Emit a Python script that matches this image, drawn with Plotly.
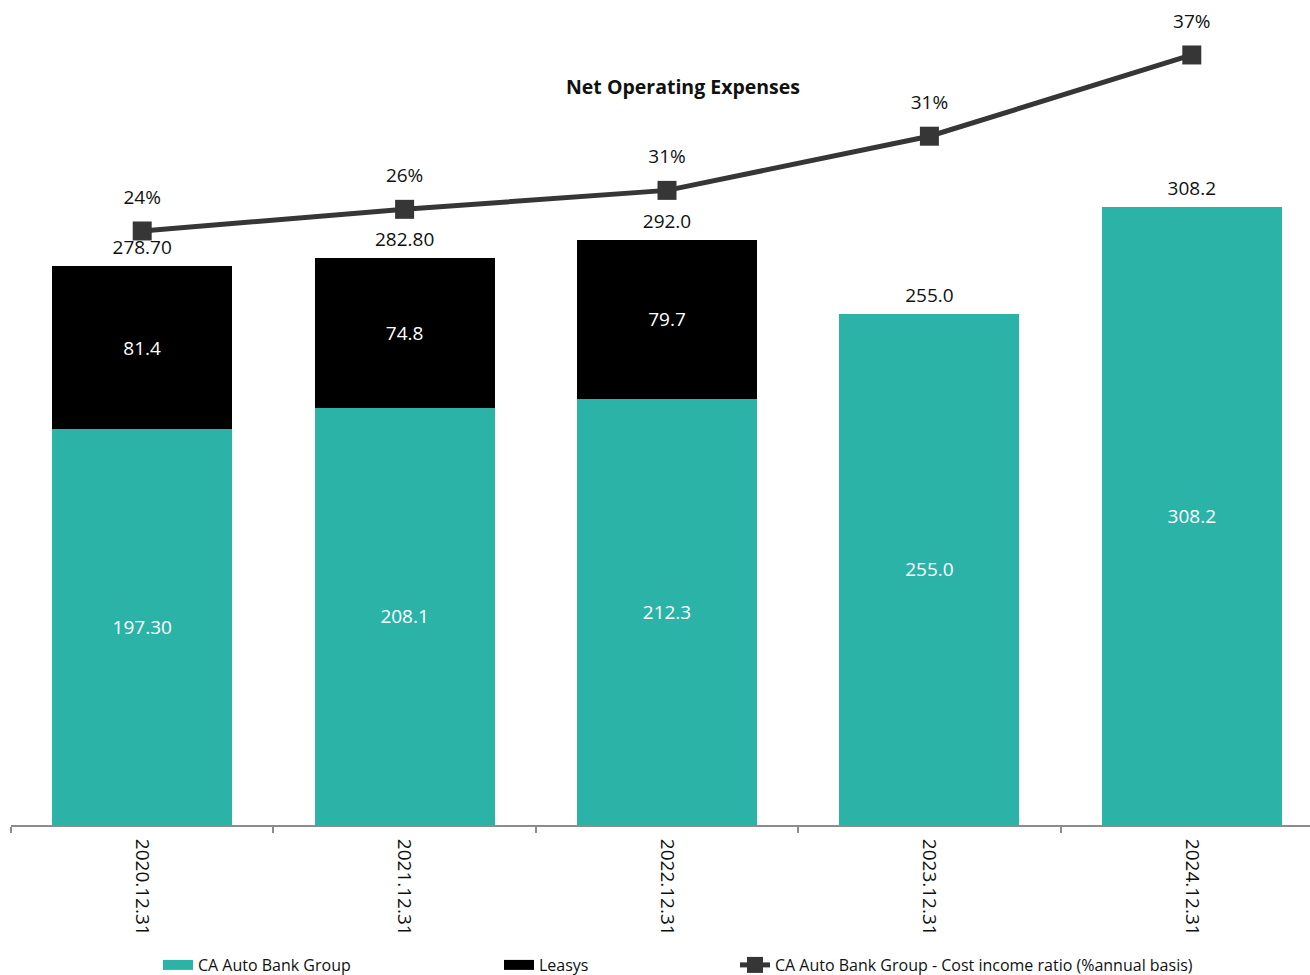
import plotly.graph_objects as go

categories = ["2020.12.31", "2021.12.31", "2022.12.31", "2023.12.31", "2024.12.31"]
ca_auto = [197.3, 208.1, 212.3, 255.0, 308.2]
ca_auto_labels = ["197.30", "208.1", "212.3", "255.0", "308.2"]
leasys = [81.4, 74.8, 79.7, None, None]
leasys_labels = ["81.4", "74.8", "79.7", "", ""]
totals = [278.7, 282.8, 292.0, 255.0, 308.2]
total_labels = ["278.70", "282.80", "292.0", "255.0", "308.2"]
cost_income = [24.0, 25.6, 27.0, 31.0, 37.0]
cost_income_labels = ["24%", "26%", "31%", "31%", "37%"]

TEAL = "#2BB3A8"
DARK = "#363636"
FONT = "Open Sans"
LABEL_SIZE = 19

# figure slightly wider than the window: the original's plot area runs past the right edge
W, H = 1323, 975
L, B = 11, 150
PW, PH = W - L, H - B


def px(x):
    return (x - L) / PW


def py(y):
    return (PH - y) / PH


fig = go.Figure()

fig.add_trace(go.Bar(
    x=categories, y=ca_auto, name="CA Auto Bank Group",
    marker=dict(color=TEAL, line=dict(width=0)),
    text=ca_auto_labels, textposition="inside", insidetextanchor="middle",
    textfont=dict(color="white", size=LABEL_SIZE, family=FONT),
    showlegend=False, hoverinfo="skip",
))
fig.add_trace(go.Bar(
    x=categories, y=leasys, name="Leasys",
    marker=dict(color="#000000", line=dict(width=0)),
    text=leasys_labels, textposition="inside", insidetextanchor="middle",
    textfont=dict(color="white", size=LABEL_SIZE, family=FONT),
    showlegend=False, hoverinfo="skip",
))
fig.add_trace(go.Scatter(
    x=categories, y=totals, mode="markers+text",
    marker=dict(size=10, opacity=0),
    text=total_labels, textposition="top center",
    textfont=dict(color="#111111", size=LABEL_SIZE, family=FONT),
    showlegend=False, hoverinfo="skip", cliponaxis=False,
))
fig.add_trace(go.Scatter(
    x=categories, y=cost_income, yaxis="y2", mode="lines+markers",
    name="CA Auto Bank Group - Cost income ratio (%annual basis)",
    line=dict(color=DARK, width=5),
    marker=dict(symbol="square", size=19, color=DARK),
    legend="legend3", hoverinfo="skip", cliponaxis=False,
))
fig.add_trace(go.Scatter(
    x=categories, y=cost_income, yaxis="y2", mode="markers+text",
    marker=dict(size=34, opacity=0),
    text=cost_income_labels, textposition="top center",
    textfont=dict(color="#111111", size=LABEL_SIZE, family=FONT),
    showlegend=False, hoverinfo="skip", cliponaxis=False,
))
# legend-only swatches for the bar series (wide rectangles like the original)
fig.add_trace(go.Scatter(
    x=[None], y=[None], mode="lines", name="CA Auto Bank Group",
    line=dict(color=TEAL, width=11), legend="legend", hoverinfo="skip",
))
fig.add_trace(go.Scatter(
    x=[None], y=[None], mode="lines", name="Leasys",
    line=dict(color="#000000", width=11), legend="legend2", hoverinfo="skip",
))

legend_font = dict(family=FONT, size=16, color="#111111")
LEG_Y = py(965)
fig.update_layout(
    width=W, height=H,
    margin=dict(l=L, r=0, t=0, b=B, autoexpand=False),
    paper_bgcolor="white", plot_bgcolor="white",
    barmode="stack", bargap=0.314,
    xaxis=dict(type="category", tickangle=90, showline=True, linecolor="#8c8c8c", linewidth=2,
               ticks="outside", tickson="boundaries", ticklen=6, tickcolor="#8c8c8c", tickwidth=2,
               ticklabelstandoff=8, automargin=False,
               tickfont=dict(family=FONT, size=19, color="#111111"), showgrid=False),
    yaxis=dict(range=[0, 411.5], visible=False, showgrid=False, automargin=False),
    yaxis2=dict(range=[-19.87, 41.06], overlaying="y", visible=False, showgrid=False, automargin=False),
    legend=dict(x=px(158), xanchor="left", y=LEG_Y, yanchor="middle",
                orientation="h", font=legend_font, bgcolor="rgba(0,0,0,0)"),
    legend2=dict(x=px(499), xanchor="left", y=LEG_Y, yanchor="middle",
                 orientation="h", font=legend_font, bgcolor="rgba(0,0,0,0)"),
    legend3=dict(x=px(735), xanchor="left", y=LEG_Y, yanchor="middle",
                 orientation="h", font=legend_font, bgcolor="rgba(0,0,0,0)"),
    annotations=[dict(text="<b>Net Operating Expenses</b>", xref="paper", yref="paper",
                      x=px(683), y=py(86), xanchor="center", yanchor="middle",
                      showarrow=False, font=dict(family=FONT, size=19.5, color="#111111"))],
)

fig.write_html("out.html", config={"displayModeBar": False},
               post_script="document.body.style.margin='0';document.body.style.overflow='hidden';")
